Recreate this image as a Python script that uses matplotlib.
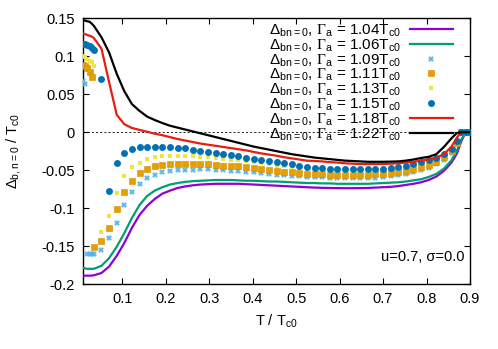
import matplotlib
matplotlib.use('Agg')
import matplotlib.pyplot as plt

plt.rcParams['font.family'] = ['Liberation Sans', 'DejaVu Sans']
plt.rcParams['mathtext.fontset'] = 'custom'
plt.rcParams['mathtext.rm'] = 'Liberation Sans'
plt.rcParams['mathtext.sf'] = 'Liberation Serif'

# temperature grid T / Tc0
T = [0.01, 0.015, 0.02, 0.025, 0.03, 0.035, 0.0525, 0.07, 0.0875, 0.105,
     0.1225, 0.14, 0.1575, 0.175, 0.1925, 0.21, 0.2275, 0.245, 0.2625, 0.28,
     0.2975, 0.315, 0.3325, 0.35, 0.3675, 0.385, 0.4025, 0.42, 0.4375, 0.455,
     0.4725, 0.49, 0.5075, 0.525, 0.5425, 0.56, 0.5775, 0.595, 0.6125, 0.63,
     0.6475, 0.665, 0.6825, 0.70, 0.7175, 0.735, 0.7525, 0.77, 0.7875, 0.805,
     0.8225, 0.84, 0.8575, 0.87, 0.88, 0.89, 0.90]

g104 = [-0.189, -0.189, -0.189, -0.189, -0.189, -0.1885, -0.1855, -0.177, -0.163, -0.146,
        -0.126, -0.109, -0.097, -0.088, -0.081, -0.077, -0.0735, -0.0715, -0.070, -0.069,
        -0.0685, -0.068, -0.068, -0.068, -0.068, -0.0685, -0.069, -0.0695, -0.070, -0.0705,
        -0.071, -0.0715, -0.072, -0.0725, -0.073, -0.0733, -0.0735, -0.0737, -0.0738, -0.0738,
        -0.0737, -0.0735, -0.073, -0.0725, -0.072, -0.071, -0.0695, -0.068, -0.066, -0.063,
        -0.0585, -0.051, -0.040, -0.028, -0.012, 0.0, 0.0]
g106 = [-0.179, -0.1795, -0.180, -0.180, -0.180, -0.180, -0.176, -0.166, -0.151, -0.133,
        -0.113, -0.096, -0.084, -0.077, -0.0725, -0.069, -0.067, -0.0655, -0.0645, -0.064,
        -0.0635, -0.063, -0.063, -0.063, -0.0635, -0.064, -0.064, -0.0645, -0.065, -0.065,
        -0.0655, -0.066, -0.0665, -0.067, -0.067, -0.0675, -0.0675, -0.068, -0.068, -0.068,
        -0.068, -0.068, -0.0675, -0.067, -0.0665, -0.066, -0.065, -0.0635, -0.062, -0.059,
        -0.055, -0.048, -0.037, -0.024, -0.010, 0.0, 0.0]
g109 = [0.068, 0.063, -0.161, -0.161, -0.161, -0.160, -0.155, -0.140, -0.119, -0.096,
        -0.079, -0.068, -0.061, -0.056, -0.053, -0.051, -0.050, -0.0495, -0.0492, -0.049,
        -0.049, -0.0495, -0.050, -0.0505, -0.051, -0.052, -0.053, -0.054, -0.055, -0.056,
        -0.057, -0.0575, -0.058, -0.0585, -0.059, -0.0595, -0.060, -0.0603, -0.0605, -0.0605,
        -0.0605, -0.060, -0.0598, -0.059, -0.058, -0.057, -0.0555, -0.053, -0.050, -0.047,
        -0.042, -0.036, -0.027, -0.015, 0.0, 0.0, 0.0]
g111 = [0.088, 0.087, 0.085, 0.079, 0.073, -0.151, -0.144, -0.126, -0.101, -0.079,
        -0.064, -0.054, -0.0487, -0.045, -0.043, -0.042, -0.0415, -0.0415, -0.0417, -0.042,
        -0.0425, -0.043, -0.044, -0.0445, -0.045, -0.046, -0.047, -0.0485, -0.050, -0.051,
        -0.052, -0.053, -0.054, -0.0545, -0.055, -0.0555, -0.056, -0.056, -0.0565, -0.0565,
        -0.0565, -0.056, -0.0555, -0.055, -0.054, -0.053, -0.0515, -0.049, -0.046, -0.043,
        -0.039, -0.033, -0.025, -0.014, 0.0, 0.0, 0.0]
g113 = [0.100, 0.099, 0.097, 0.094, 0.092, 0.087, -0.131, -0.110, -0.080, -0.058,
        -0.046, -0.040, -0.0355, -0.033, -0.032, -0.0315, -0.0315, -0.0315, -0.032, -0.0325,
        -0.033, -0.034, -0.035, -0.036, -0.037, -0.038, -0.0395, -0.041, -0.0425, -0.044,
        -0.045, -0.046, -0.047, -0.048, -0.049, -0.0495, -0.050, -0.0505, -0.051, -0.051,
        -0.051, -0.051, -0.0505, -0.050, -0.049, -0.048, -0.0465, -0.0445, -0.042, -0.039,
        -0.035, -0.030, -0.023, -0.013, 0.0, 0.0, 0.0]
g115 = [0.116, 0.116, 0.115, 0.113, 0.111, 0.108, 0.070, -0.077, -0.041, -0.027,
        -0.0225, -0.020, -0.019, -0.019, -0.019, -0.0195, -0.0205, -0.0215, -0.023, -0.0245,
        -0.026, -0.0275, -0.029, -0.0305, -0.032, -0.0335, -0.035, -0.0365, -0.038, -0.0395,
        -0.041, -0.0425, -0.0445, -0.046, -0.047, -0.0475, -0.048, -0.0485, -0.049, -0.049,
        -0.049, -0.0488, -0.0485, -0.048, -0.047, -0.0455, -0.044, -0.042, -0.0395, -0.037,
        -0.0335, -0.029, -0.022, -0.012, 0.0, 0.0, 0.0]
g118 = [0.130, 0.129, 0.128, 0.127, 0.126, 0.124, 0.110, 0.066, 0.023, 0.0105,
        0.0055, 0.003, 0.0005, -0.002, -0.004, -0.0065, -0.009, -0.011, -0.013, -0.015,
        -0.0165, -0.018, -0.0195, -0.021, -0.0225, -0.024, -0.026, -0.028, -0.0295, -0.031,
        -0.033, -0.0345, -0.036, -0.0375, -0.038, -0.0385, -0.0395, -0.040, -0.041, -0.0415,
        -0.042, -0.042, -0.042, -0.042, -0.0415, -0.041, -0.040, -0.039, -0.0375, -0.036,
        -0.0335, -0.029, -0.019, -0.007, 0.0, 0.0, 0.0]
g122 = [0.147, 0.147, 0.146, 0.1455, 0.143, 0.140, 0.125, 0.105, 0.077, 0.054,
        0.037, 0.028, 0.0205, 0.016, 0.012, 0.0085, 0.006, 0.0035, 0.001, -0.0015,
        -0.004, -0.0065, -0.009, -0.0115, -0.014, -0.0165, -0.019, -0.021, -0.023, -0.025,
        -0.027, -0.029, -0.0305, -0.032, -0.0335, -0.0345, -0.0355, -0.0365, -0.0375, -0.038,
        -0.0385, -0.039, -0.039, -0.039, -0.0388, -0.0385, -0.0375, -0.036, -0.034, -0.0325,
        -0.029, -0.0195, -0.008, -0.001, 0.0, 0.0, 0.0]

gammas = ['1.04', '1.06', '1.09', '1.11', '1.13', '1.15', '1.18', '1.22']
series = [g104, g106, g109, g111, g113, g115, g118, g122]

styles = [
    dict(color='#9400d3', lw=1.6),
    dict(color='#009e73', lw=1.6),
    dict(color='#56b4e9', ls='none', marker='X', ms=4.2, mew=0),
    dict(color='#e69f00', ls='none', marker='s', ms=4.5, mec='#d08c00', mew=0.4),
    dict(color='#f0e442', ls='none', marker='s', ms=3.2, mew=0),
    dict(color='#0072b2', ls='none', marker='o', ms=5.0, mew=0),
    dict(color='#e51e10', lw=1.6),
    dict(color='black', lw=1.6),
]

xticks = [0.1, 0.2, 0.3, 0.4, 0.5, 0.6, 0.7, 0.8, 0.9]
xlabels = ['0.1', '0.2', '0.3', '0.4', '0.5', '0.6', '0.7', '0.8', '0.9']
yticks = [-0.2, -0.15, -0.1, -0.05, 0.0, 0.05, 0.1, 0.15]
ylabels = ['-0.2', '-0.15', '-0.1', '-0.05', '0', '0.05', '0.1', '0.15']

fs = 10.5

fig = plt.figure(figsize=(4.98, 3.49), dpi=100)
ax = fig.add_axes([83 / 498, 1 - 284 / 349, 387 / 498, 265.7 / 349])

ax.axhline(0, color='black', lw=0.6, ls=(0, (2.5, 2.5)), zorder=1)

for g, y, st in zip(gammas, series, styles):
    lab = (r'$\Delta_{\mathrm{bn=0}}$, $\mathsf{\Gamma}_{\mathrm{a}}$ = '
           + g + r'T$_{\mathrm{c0}}$')
    ax.plot(T, y, label=lab, zorder=3, **st)

ax.set_xlim(0.01, 0.9)
ax.set_ylim(-0.2, 0.15)
ax.set_xticks(xticks)
ax.set_xticklabels(xlabels)
ax.set_yticks(yticks)
ax.set_yticklabels(ylabels)
ax.tick_params(direction='in', top=True, right=True, length=4, width=0.8,
               labelsize=fs, pad=6)
for s in ax.spines.values():
    s.set_linewidth(1.0)

ax.set_xlabel(r'T / T$_{\mathrm{c0}}$', fontsize=fs, labelpad=4)
ax.set_ylabel(r'$\Delta_{\mathrm{b,n=0}}$ / T$_{\mathrm{c0}}$', fontsize=fs,
              labelpad=12)

leg = ax.legend(loc='upper right', bbox_to_anchor=(0.965, 1.0), frameon=False,
                fontsize=11, markerfirst=False, handlelength=2.8,
                handletextpad=0.6, labelspacing=-0.12, borderaxespad=0.0,
                borderpad=0.25)

ax.text(0.985, 0.1, u'u=0.7, \u03c3=0.0', transform=ax.transAxes,
        ha='right', va='center', fontsize=fs)

fig.savefig('out.png', dpi=100)
